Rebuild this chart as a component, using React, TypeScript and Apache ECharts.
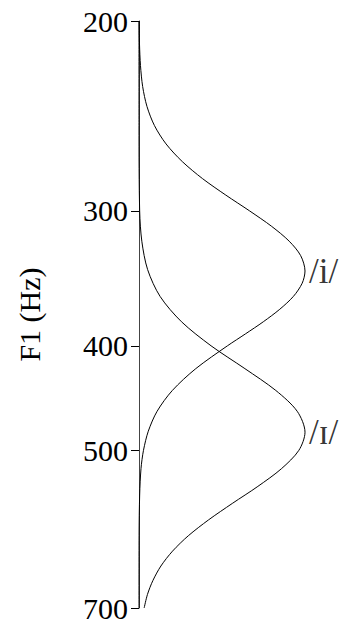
import React, { useEffect, useRef } from "react";
import * as echarts from "echarts";

// F1 values (Hz) and relative densities
const F1_I = [200, 210, 220, 230, 240, 250, 260, 270, 280, 290, 300, 310, 320, 330, 341, 350, 360, 370, 380, 390, 400, 420, 440, 460, 480, 500, 520, 550, 600, 700];
const DENS_I = [0.001, 0.003, 0.009, 0.022, 0.048, 0.093, 0.163, 0.261, 0.383, 0.523, 0.667, 0.799, 0.905, 0.974, 1, 0.983, 0.93, 0.848, 0.749, 0.641, 0.533, 0.342, 0.201, 0.109, 0.056, 0.027, 0.012, 0.004, 0.0004, 0];

const F1_IH = [200, 250, 300, 320, 340, 360, 380, 400, 420, 440, 460, 481, 500, 520, 540, 560, 580, 600, 620, 640, 660, 680, 700];
const DENS_IH = [0, 0, 0.004, 0.017, 0.052, 0.127, 0.256, 0.434, 0.638, 0.824, 0.953, 1, 0.963, 0.858, 0.716, 0.562, 0.419, 0.297, 0.202, 0.132, 0.084, 0.051, 0.031];

const VOWELS = ["/i/", "/ɪ/"];
const PEAK_F1 = [341, 481];
const PEAK_DENS = [1, 1];

const TICKS = [200, 300, 400, 500, 700];
const AXIS_NAME = "F1 (Hz)";

const FONT = '"Liberation Serif", "DejaVu Serif", serif';

export default function App() {
  const ref = useRef<HTMLDivElement>(null);
  useEffect(() => {
    if (!ref.current) return;
    const chart = echarts.init(ref.current, null, { renderer: "svg" });
    const curveI = F1_I.map((f, i) => [DENS_I[i], f]);
    const curveIH = F1_IH.map((f, i) => [DENS_IH[i], f]);
    const labels = VOWELS.map((v, i) => ({
      value: [PEAK_DENS[i], PEAK_F1[i]],
      label: { formatter: v },
    }));
    chart.setOption({
      animation: false,
      backgroundColor: "#fff",
      grid: { left: 139, right: 53, top: 21, bottom: 11, containLabel: false },
      xAxis: {
        type: "value",
        min: 0,
        max: 1,
        show: false,
      },
      yAxis: {
        type: "log",
        logBase: 10,
        min: 200,
        max: 700,
        inverse: true,
        name: AXIS_NAME,
        nameLocation: "middle",
        nameGap: 95,
        nameRotate: 90,
        nameTextStyle: { fontFamily: FONT, fontSize: 30, color: "#000" },
        axisLine: { show: true, lineStyle: { color: "#444", width: 1 } },
        axisTick: {
          show: true,
          inside: false,
          length: 8,
          customValues: TICKS,
          lineStyle: { color: "#000", width: 1 },
        },
        axisLabel: {
          show: true,
          customValues: TICKS,
          margin: 11,
          fontFamily: FONT,
          fontSize: 30,
          color: "#000",
          formatter: (v: number) => String(Math.round(v)),
        },
        splitLine: { show: false },
      },
      series: [
        {
          type: "line",
          data: curveI,
          smooth: 0.3,
          showSymbol: false,
          symbol: "none",
          lineStyle: { color: "#000", width: 1 },
        },
        {
          type: "line",
          data: curveIH,
          smooth: 0.3,
          showSymbol: false,
          symbol: "none",
          lineStyle: { color: "#000", width: 1 },
        },
        {
          type: "scatter",
          data: labels,
          symbolSize: 0,
          label: {
            show: true,
            position: "right",
            distance: 4,
            fontFamily: FONT,
            fontSize: 35,
            color: "#000",
          },
        },
      ],
    });
    return () => chart.dispose();
  }, []);
  return (
    <div
      ref={ref}
      style={{ position: "fixed", left: 0, top: 0, width: 358, height: 623 }}
    />
  );
}
